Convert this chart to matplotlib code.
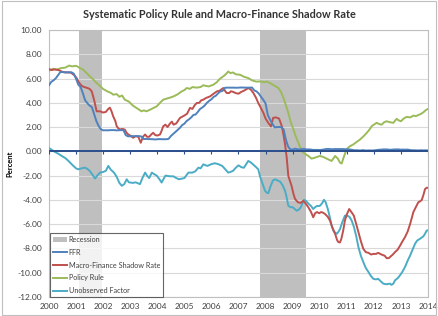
import numpy as np
import matplotlib
matplotlib.use('Agg')
import matplotlib.pyplot as plt
from matplotlib.patches import Patch, Rectangle
from matplotlib.lines import Line2D

plt.rcParams['font.family'] = ['Lato', 'DejaVu Sans']

# Recession bands (decimal years)
recessions = [(2001.1, 2001.95), (2007.8, 2009.48)]

# FFR, monthly from Jan 2000
ffr = [5.45, 5.73, 5.85, 6.02, 6.27, 6.53, 6.54, 6.50, 6.52, 6.51, 6.51, 6.40,
       5.98, 5.49, 5.31, 4.80, 4.21, 3.97, 3.77, 3.65, 3.07, 2.49, 2.09, 1.82,
       1.73, 1.74, 1.73, 1.75, 1.75, 1.75, 1.73, 1.74, 1.75, 1.75, 1.34, 1.24,
       1.24, 1.26, 1.25, 1.26, 1.26, 1.22, 1.01, 1.03, 1.01, 1.01, 1.00, 0.98,
       1.00, 1.01, 1.00, 1.00, 1.00, 1.03, 1.26, 1.43, 1.61, 1.76, 1.93, 2.16,
       2.28, 2.50, 2.63, 2.79, 3.00, 3.04, 3.26, 3.50, 3.62, 3.78, 4.00, 4.16,
       4.29, 4.49, 4.59, 4.79, 4.94, 4.99, 5.24, 5.25, 5.25, 5.25, 5.25, 5.24,
       5.25, 5.26, 5.26, 5.25, 5.25, 5.25, 5.26, 5.02, 4.94, 4.76, 4.49, 4.24,
       3.94, 2.98, 2.61, 2.28, 1.98, 2.00, 2.01, 2.00, 1.81, 0.97, 0.39, 0.16,
       0.15, 0.22, 0.18, 0.15, 0.18, 0.21, 0.16, 0.16, 0.15, 0.12, 0.12, 0.12,
       0.11, 0.13, 0.16, 0.20, 0.20, 0.18, 0.18, 0.19, 0.19, 0.19, 0.19, 0.18,
       0.17, 0.16, 0.14, 0.10, 0.09, 0.09, 0.07, 0.10, 0.08, 0.07, 0.08, 0.07,
       0.08, 0.10, 0.13, 0.14, 0.16, 0.16, 0.16, 0.13, 0.14, 0.16, 0.16, 0.16,
       0.14, 0.15, 0.14, 0.15, 0.11, 0.09, 0.09, 0.08, 0.08, 0.09, 0.08, 0.09,
       0.07]

# Macro-Finance Shadow Rate
shadow_t = [2000.0, 2000.1, 2000.2, 2000.35, 2000.5, 2000.65, 2000.8, 2000.92, 2001.02, 2001.1,
            2001.2, 2001.3, 2001.42, 2001.5, 2001.58, 2001.67, 2001.76, 2001.88, 2002.0, 2002.1,
            2002.19, 2002.25, 2002.31, 2002.37, 2002.45, 2002.5, 2002.56, 2002.62, 2002.7, 2002.8,
            2002.86, 2002.93, 2003.0, 2003.11, 2003.2, 2003.3, 2003.39, 2003.47, 2003.55, 2003.62,
            2003.7, 2003.78, 2003.85, 2003.92, 2004.0, 2004.1, 2004.16, 2004.22, 2004.3, 2004.38,
            2004.47, 2004.54, 2004.6, 2004.7, 2004.84, 2005.0, 2005.1, 2005.21, 2005.3, 2005.38,
            2005.46, 2005.55, 2005.62, 2005.7, 2005.8, 2005.95, 2006.05, 2006.2, 2006.3, 2006.44,
            2006.5, 2006.56, 2006.65, 2006.72, 2006.8, 2006.9, 2007.0, 2007.1, 2007.2, 2007.28,
            2007.36, 2007.45, 2007.55, 2007.65, 2007.73, 2007.82, 2007.92, 2008.0, 2008.1, 2008.2,
            2008.28, 2008.38, 2008.5, 2008.6, 2008.66, 2008.72, 2008.78, 2008.84, 2008.96, 2009.03,
            2009.09, 2009.2, 2009.3, 2009.39, 2009.48, 2009.58, 2009.68, 2009.76, 2009.83, 2009.9,
            2009.98, 2010.05, 2010.12, 2010.2, 2010.3, 2010.38, 2010.47, 2010.57, 2010.64, 2010.69,
            2010.75, 2010.8, 2010.87, 2010.93, 2011.0, 2011.09, 2011.17, 2011.26, 2011.35, 2011.43,
            2011.52, 2011.61, 2011.7, 2011.8, 2011.9, 2011.98, 2012.08, 2012.16, 2012.28, 2012.4,
            2012.47, 2012.55, 2012.6, 2012.7, 2012.78, 2012.88, 2012.97, 2013.06, 2013.15, 2013.25,
            2013.34, 2013.4, 2013.46, 2013.55, 2013.64, 2013.72, 2013.77, 2013.83, 2013.89, 2013.95,
            2014.0]
shadow_v = [6.78, 6.7, 6.75, 6.7, 6.55, 6.5, 6.5, 6.3, 6.04, 5.7,
            5.41, 5.3, 5.22, 5.15, 4.94, 4.2, 3.3, 3.3, 3.2, 3.25,
            3.5, 3.6, 3.3, 2.89, 2.5, 2.07, 1.9, 1.8, 1.85, 1.8,
            1.55, 1.39, 1.3, 1.12, 1.25, 1.2, 0.71, 1.2, 1.39, 1.2,
            1.2, 1.4, 1.53, 1.35, 1.3, 1.39, 1.7, 2.07, 2.2, 2.0,
            2.3, 2.45, 2.2, 2.3, 2.76, 2.95, 3.1, 3.58, 3.5, 3.8,
            3.99, 4.0, 4.2, 4.26, 4.4, 4.53, 4.7, 4.94, 5.0, 5.22,
            5.0, 4.81, 4.8, 4.95, 4.9, 4.8, 4.75, 4.9, 5.0, 5.1,
            5.22, 5.1, 4.81, 4.4, 3.99, 3.6, 3.17, 2.7, 2.35, 2.05,
            2.76, 2.8, 2.7, 2.07, 1.4, 0.57, -0.5, -2.02, -2.84, -3.5,
            -3.93, -4.2, -4.25, -4.07, -4.3, -4.61, -5.0, -5.43, -5.1, -5.0,
            -5.1, -5.0, -5.05, -5.17, -5.4, -5.71, -6.3, -6.8, -7.3, -7.48,
            -7.5, -7.2, -6.5, -5.71, -5.2, -4.75, -5.0, -5.3, -6.0, -6.67,
            -7.4, -8.03, -8.3, -8.36, -8.5, -8.45, -8.45, -8.36, -8.5, -8.6,
            -8.8, -8.8, -8.7, -8.5, -8.3, -8.1, -7.76, -7.4, -7.07, -6.6,
            -5.98, -5.5, -5.0, -4.6, -4.2, -4.1, -4.0, -3.6, -3.11, -3.0,
            -3.0]

# Policy Rule
rule_t = [2000.0, 2000.15, 2000.3, 2000.45, 2000.6, 2000.75, 2000.85, 2001.0, 2001.15, 2001.25,
          2001.39, 2001.5, 2001.6, 2001.76, 2001.88, 2002.0, 2002.15, 2002.3, 2002.37, 2002.5,
          2002.6, 2002.7, 2002.8, 2002.95, 2003.1, 2003.25, 2003.42, 2003.5, 2003.6, 2003.75,
          2003.88, 2003.98, 2004.1, 2004.22, 2004.35, 2004.5, 2004.6, 2004.75, 2004.9, 2005.0,
          2005.09, 2005.2, 2005.3, 2005.45, 2005.6, 2005.7, 2005.76, 2005.9, 2006.07, 2006.2,
          2006.3, 2006.45, 2006.55, 2006.62, 2006.7, 2006.8, 2006.9, 2007.06, 2007.2, 2007.36,
          2007.5, 2007.65, 2007.8, 2007.95, 2008.05, 2008.16, 2008.3, 2008.47, 2008.57, 2008.66,
          2008.75, 2008.84, 2008.93, 2009.03, 2009.12, 2009.21, 2009.33, 2009.45, 2009.58, 2009.7,
          2009.85, 2010.0, 2010.12, 2010.26, 2010.35, 2010.44, 2010.57, 2010.67, 2010.75, 2010.81,
          2010.9, 2010.99, 2011.1, 2011.24, 2011.35, 2011.49, 2011.6, 2011.74, 2011.84, 2011.92,
          2012.0, 2012.1, 2012.2, 2012.29, 2012.38, 2012.47, 2012.6, 2012.72, 2012.84, 2012.92,
          2013.0, 2013.1, 2013.21, 2013.35, 2013.46, 2013.55, 2013.65, 2013.75, 2013.83, 2013.92,
          2014.0]
rule_v = [6.64, 6.8, 6.75, 6.86, 6.9, 7.07, 7.0, 7.05, 6.86, 6.75,
          6.45, 6.2, 6.0, 5.63, 5.4, 5.14, 4.95, 4.8, 4.67, 4.72,
          4.5, 4.6, 4.26, 4.1, 3.77, 3.55, 3.3, 3.38, 3.3, 3.45,
          3.6, 3.71, 4.0, 4.26, 4.35, 4.45, 4.53, 4.7, 4.94, 5.05,
          5.22, 5.15, 5.3, 5.25, 5.3, 5.45, 5.41, 5.35, 5.49, 5.7,
          5.96, 6.2, 6.4, 6.58, 6.45, 6.5, 6.35, 6.31, 6.15, 6.04,
          5.85, 5.75, 5.76, 5.7, 5.75, 5.63, 5.45, 5.22, 4.9, 4.4,
          3.8, 3.17, 2.4, 1.8, 1.2, 0.71, 0.03, -0.2, -0.38, -0.6,
          -0.5, -0.38, -0.45, -0.6, -0.7, -0.79, -0.38, -0.6, -0.93, -1.0,
          -0.4, 0.16, 0.4, 0.57, 0.75, 0.98, 1.2, 1.53, 1.8, 2.07,
          2.2, 2.35, 2.25, 2.2, 2.4, 2.48, 2.4, 2.35, 2.68, 2.55,
          2.48, 2.7, 2.84, 2.8, 2.95, 2.9, 3.0, 3.1, 3.22, 3.4,
          3.5]

# Unobserved Factor
factor_t = [2000.0, 2000.04, 2000.12, 2000.22, 2000.35, 2000.47, 2000.6, 2000.7, 2000.78, 2000.9,
            2001.0, 2001.08, 2001.2, 2001.33, 2001.42, 2001.5, 2001.6, 2001.7, 2001.78, 2001.88,
            2002.0, 2002.1, 2002.19, 2002.28, 2002.4, 2002.5, 2002.6, 2002.69, 2002.78, 2002.87,
            2002.95, 2003.1, 2003.2, 2003.3, 2003.36, 2003.45, 2003.55, 2003.62, 2003.7, 2003.8,
            2003.9, 2003.98, 2004.08, 2004.16, 2004.3, 2004.45, 2004.6, 2004.7, 2004.8, 2004.9,
            2005.0, 2005.15, 2005.3, 2005.4, 2005.52, 2005.6, 2005.7, 2005.85, 2006.0, 2006.13,
            2006.25, 2006.4, 2006.5, 2006.62, 2006.7, 2006.8, 2006.9, 2007.0, 2007.1, 2007.2,
            2007.3, 2007.36, 2007.45, 2007.55, 2007.65, 2007.73, 2007.8, 2007.88, 2007.98, 2008.04,
            2008.1, 2008.18, 2008.27, 2008.35, 2008.45, 2008.54, 2008.63, 2008.72, 2008.78, 2008.84,
            2008.92, 2009.0, 2009.08, 2009.15, 2009.23, 2009.3, 2009.36, 2009.42, 2009.5, 2009.58,
            2009.68, 2009.76, 2009.83, 2009.9, 2010.0, 2010.08, 2010.16, 2010.22, 2010.3, 2010.37,
            2010.44, 2010.52, 2010.63, 2010.7, 2010.75, 2010.84, 2010.93, 2011.02, 2011.1, 2011.18,
            2011.26, 2011.35, 2011.43, 2011.52, 2011.61, 2011.7, 2011.8, 2011.9, 2011.98, 2012.08,
            2012.16, 2012.25, 2012.35, 2012.45, 2012.6, 2012.65, 2012.72, 2012.78, 2012.88, 2012.97,
            2013.06, 2013.15, 2013.25, 2013.34, 2013.43, 2013.52, 2013.6, 2013.7, 2013.83, 2013.9,
            2013.95, 2014.0]
factor_v = [0.25, 0.22, 0.1, -0.05, -0.2, -0.38, -0.55, -0.75, -0.93, -1.2,
            -1.4, -1.48, -1.4, -1.34, -1.45, -1.6, -1.9, -2.24, -2.0, -1.75,
            -1.7, -1.6, -1.2, -1.5, -1.75, -2.1, -2.6, -2.84, -2.7, -2.3,
            -2.55, -2.6, -2.55, -2.65, -2.7, -2.2, -1.75, -2.0, -2.2, -1.75,
            -1.9, -2.0, -2.3, -2.57, -2.0, -2.05, -2.06, -2.2, -2.3, -2.25,
            -2.2, -1.75, -1.75, -1.65, -1.34, -1.4, -1.07, -1.2, -1.05, -0.98,
            -1.05, -1.2, -1.45, -1.75, -1.7, -1.6, -1.35, -1.15, -1.3, -1.35,
            -1.0, -0.79, -0.9, -1.1, -1.3, -1.48, -2.1, -2.6, -3.25, -3.39,
            -3.45, -2.9, -2.4, -2.3, -2.4, -2.5, -2.8, -3.25, -3.8, -4.48,
            -4.6, -4.6, -4.75, -4.89, -4.8, -4.61, -4.3, -3.99, -4.1, -4.3,
            -4.5, -4.75, -4.6, -4.5, -4.5, -4.3, -3.99, -4.2, -4.75, -5.4,
            -6.12, -6.6, -6.8, -6.6, -6.4, -5.8, -5.3, -5.3, -5.4, -5.7,
            -6.2, -7.0, -7.89, -8.6, -9.12, -9.6, -9.94, -10.3, -10.5, -10.55,
            -10.5, -10.7, -10.9, -10.95, -10.9, -11.0, -10.9, -10.63, -10.45, -10.2,
            -9.9, -9.53, -9.0, -8.58, -8.1, -7.62, -7.35, -7.21, -7.0, -6.75,
            -6.53, -6.5]

years = list(range(2000, 2015))
yticks = list(range(-12, 11, 2))

c_ffr = '#4F81BD'
c_shadow = '#C0504D'
c_rule = '#9BBB59'
c_factor = '#4BACC6'
c_rec = '#BFBFBF'

fig = plt.figure(figsize=(4.38, 3.16), dpi=100)
ax = fig.add_axes([49 / 438, 1 - 297 / 316, 379 / 438, 267 / 316])

for start, end in recessions:
    ax.axvspan(start, end, color=c_rec, lw=0, zorder=1)

ax.set_yticks(yticks)
ax.grid(axis='y', color='#D9D9D9', lw=0.8, zorder=0)

ffr_t = 2000 + np.arange(len(ffr)) / 12
ax.plot(factor_t, factor_v, color=c_factor, lw=1.4, zorder=3)
ax.plot(rule_t, rule_v, color=c_rule, lw=1.4, zorder=3)
ax.plot(shadow_t, shadow_v, color=c_shadow, lw=1.4, zorder=4)
ax.plot(ffr_t, ffr, color=c_ffr, lw=1.4, zorder=5)

# horizontal axis drawn at zero with year tick marks
ax.axhline(0, color='#2A4D8C', lw=1.4, zorder=6)
ax.vlines(years, -0.25, 0, color='#2A4D8C', lw=0.8, zorder=6)

ax.set_xlim(2000, 2014)
ax.set_ylim(-12, 10)
ax.set_xticks(years)
ax.set_xticklabels([str(y) for y in years], fontsize=6, color='#404040')
ax.set_yticklabels(['%.2f' % v for v in yticks], fontsize=6, color='#404040')
ax.tick_params(axis='x', length=0, pad=4)
ax.tick_params(axis='y', length=0, pad=5)
for side in ['left', 'right', 'top', 'bottom']:
    ax.spines[side].set_color('#BFBFBF')
    ax.spines[side].set_linewidth(0.8)

ax.set_ylabel('Percent', fontsize=5.5, fontweight='bold', labelpad=3)
fig.text(0.5, 1 - 15 / 316, 'Systematic Policy Rule and Macro-Finance Shadow Rate',
         ha='center', va='center', fontsize=7.8, fontweight='bold', color='#333333')

handles = [Patch(facecolor=c_rec, edgecolor='none', label='Recession'),
           Line2D([], [], color=c_ffr, lw=1.4, label='FFR'),
           Line2D([], [], color=c_shadow, lw=1.4, label='Macro-Finance Shadow Rate'),
           Line2D([], [], color=c_rule, lw=1.4, label='Policy Rule'),
           Line2D([], [], color=c_factor, lw=1.4, label='Unobserved Factor')]
leg = ax.legend(handles=handles, loc='lower left', bbox_to_anchor=(0.003, 0.0),
                borderaxespad=0, fontsize=5.2, frameon=True, fancybox=False,
                handlelength=2.0, handleheight=0.6, handletextpad=0.15,
                labelspacing=0.8, borderpad=0.4)
leg.get_frame().set_edgecolor('#404040')
leg.get_frame().set_linewidth(0.8)
leg.set_zorder(10)
for t in leg.get_texts():
    t.set_color('#404040')

fig.patches.append(Rectangle((0.004, 0.004), 0.992, 0.992, transform=fig.transFigure,
                             fill=False, edgecolor='#BFBFBF', lw=0.8))

fig.savefig('out.png', dpi=100)
